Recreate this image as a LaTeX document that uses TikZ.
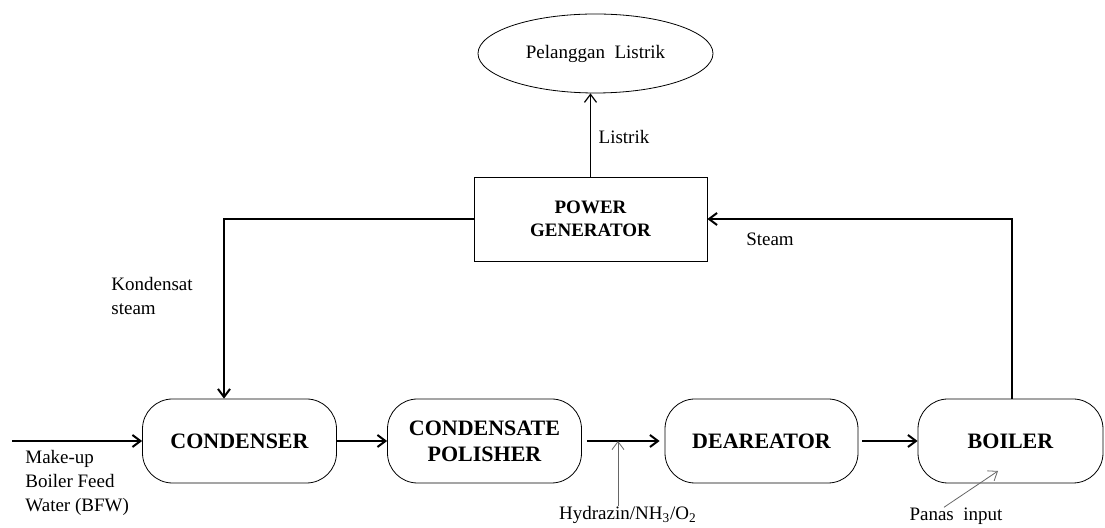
\documentclass[tikz,border=0pt]{standalone}
\usepackage{fontspec}
\setmainfont{Liberation Serif}
\usetikzlibrary{arrows.meta,shapes.geometric}
\newcommand{\unitfont}{\fontsize{11}{13}\selectfont\bfseries}
\newcommand{\genfont}{\fontsize{9.5}{11.5}\selectfont\bfseries}
\newcommand{\labelfont}{\fontsize{9.5}{11.8}\selectfont}

\begin{document}
\begin{tikzpicture}
    [
      x=0.5pt,
      y=-0.5pt,
      unit/.style=
      {
        draw,
        thin,
        rounded corners=15pt,
        align=center,
        inner sep=0pt,
        minimum height=42pt,
        minimum width=97pt,
        font=\unitfont
      },
      generator/.style=
      {
        draw,
        thin,
        align=center,
        inner sep=0pt,
        minimum height=42pt,
        minimum width=116.5pt,
        font=\genfont
      },
      customer/.style=
      {
        draw,
        thin,
        ellipse,
        inner sep=0pt,
        minimum height=39.5pt,
        minimum width=117.5pt,
        font=\labelfont
      },
      txt/.style=
      {
        inner sep=0pt,
        align=left,
        font=\labelfont
      },
      flow/.style=
      {
        line width=1pt,
        -{Straight Barb[length=4pt,width=6pt]}
      },
      feed/.style=
      {
        line width=0.4pt,
        draw=black!60,
        -{Straight Barb[length=4pt,width=6pt]}
      }
    ]
    \useasboundingbox (0,0) rectangle (1105,528);

    \node[unit](Condenser) at (239.5,441) {CONDENSER};
    \node[unit](Polisher) at (484.5,441) {CONDENSATE\\POLISHER};
    \node[unit, minimum width=96.5pt](Deareator) at (761.5,441) {DEAREATOR};
    \node[unit, minimum width=92.5pt](Boiler) at (1010.5,441) {BOILER};
    \node[generator](Generator) at (590.5,219) {POWER\\GENERATOR};
    \node[customer](Customer) at (595.5,53.5) {Pelanggan\ \ Listrik};

    \node[txt, anchor=west](MakeUp) at (25,483) {Make-up\\Boiler Feed\\Water (BFW)};
    \node[txt, anchor=west](Kondensat) at (111,296) {Kondensat\\steam};
    \node[txt](Steam) at (770,239) {Steam};
    \node[txt](Listrik) at (624,137) {Listrik};
    \node[txt](Hydrazin) at (628,515) {Hydrazin/NH\textsubscript{3}/O\textsubscript{2}};
    \node[txt](Panas) at (956,516) {Panas\ \ input};

    \coordinate (FeedIn) at (12,441);
    \coordinate (Dosing) at (618,441);
    \coordinate (HeatIn) at (998,471);
    \coordinate (SteamUp) at (1012,441);
    \coordinate (CondIn) at (224,441);

    \draw[flow] (FeedIn) -- (Condenser.west);
    \draw[flow] (Condenser.east) -- (Polisher.west);
    \draw[flow, shorten <=2.5pt, shorten >=2.5pt] (Polisher.east) -- (Deareator.west);
    \draw[flow, shorten <=2pt] (Deareator.east) -- (Boiler.west);
    \draw[feed] (Hydrazin.north -| Dosing) -- (Dosing);
    \draw[feed] (Panas.north) ++(-12,0) -- (HeatIn);
    \draw[flow] (SteamUp |- Boiler.north) |- (Generator.east);
    \draw[flow] (Generator.west) -| (CondIn |- Condenser.north);
    \draw[flow, line width=0.6pt] (Generator.north) -- (Customer.south -| Generator.north);
  \end{tikzpicture}
\end{document}
